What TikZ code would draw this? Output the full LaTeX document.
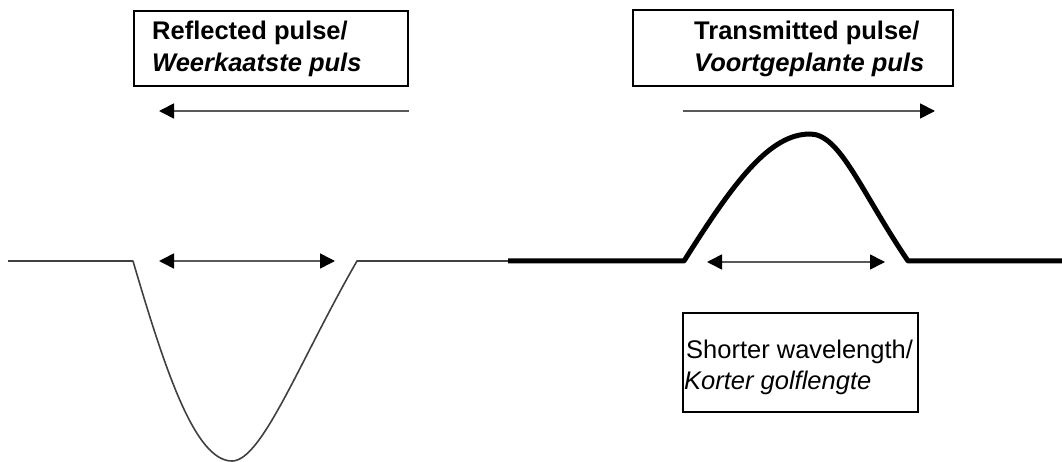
\documentclass[tikz,border=0pt]{standalone}
\usepackage{fontspec}
\setmainfont{Liberation Sans}
\usetikzlibrary{arrows.meta}
\begin{document}
\begin{tikzpicture}[x=1pt,y=-1pt,
  labelbox/.style={draw=black,line width=2.4pt,minimum width=#1,inner sep=0pt},
  lbl/.style={anchor=base west,inner sep=0pt,font=\fontsize{25.5}{30}\selectfont},
  thinline/.style={draw=black!75,line width=1.6pt},
  thickline/.style={draw=black,line width=5pt},
  tip/.style={Triangle[length=15pt,width=15pt,fill=black,draw=black]},
  dirarrow/.style={draw=black!65,line width=1.8pt,-{Triangle[length=15pt,width=15pt,color=black]}},
  dblarrow/.style={draw=black!65,line width=1.6pt,{Triangle[length=15pt,width=15pt,color=black]}-{Triangle[length=15pt,width=15pt,color=black]}}
]
\useasboundingbox (0,0) rectangle (1062,462);
% boxes
\node[labelbox=274pt,minimum height=75pt] (rbox) at (271,48.5) {};
\node[labelbox=320pt,minimum height=76pt] (tbox) at (793,48) {};
\node[labelbox=235pt,minimum height=99pt] (sbox) at (800.5,362.5) {};
% texts
\node[lbl,font=\fontsize{25.5}{30}\selectfont\bfseries] (rt1) at (152,40) {Reflected pulse/};
\node[lbl,font=\fontsize{25.5}{30}\selectfont\bfseries\itshape] (rt2) at (152,72) {Weerkaatste puls};
\node[lbl,font=\fontsize{25.5}{30}\selectfont\bfseries] (tt1) at (694,40) {Transmitted pulse/};
\node[lbl,font=\fontsize{25.5}{30}\selectfont\bfseries\itshape] (tt2) at (694,72) {Voortgeplante puls};
\node[lbl] (st1) at (686,358) {Shorter wavelength/};
\node[lbl,font=\fontsize{25.5}{30}\selectfont\itshape] (st2) at (684,389) {Korter golflengte};
% direction arrows
\coordinate (ra0) at (409,111);
\coordinate (ra1) at (159,111);
\coordinate (ta0) at (683,111);
\coordinate (ta1) at (935,111);
\draw[dirarrow] (ra0) -- (ra1);
\draw[dirarrow] (ta0) -- (ta1);
% rope
\coordinate (l0) at (8,261);
\coordinate (d0) at (133,261);
\coordinate (dmin) at (232,461);
\coordinate (d1) at (357,261);
\coordinate (j) at (508,261);
\coordinate (p0) at (684,261);
\coordinate (pmax) at (810,134);
\coordinate (p1) at (908,261);
\coordinate (r0) at (1062,261);
\draw[thinline,line join=round] (l0) -- (d0) .. controls (165,370) and (195,461) .. (dmin) .. controls (262,461) and (300,360) .. (d1) -- (j);
\draw[thickline,line join=round] (j) -- (p0) .. controls (735,180) and (770,134) .. (pmax) .. controls (840,134) and (860,190) .. (p1) -- (r0);
% wavelength arrows
\coordinate (w0) at (159,261);
\coordinate (w1) at (335,261);
\coordinate (v0) at (707,262);
\coordinate (v1) at (885,262);
\draw[dblarrow] (w0) -- (w1);
\draw[dblarrow] (v0) -- (v1);
\end{tikzpicture}
\end{document}
